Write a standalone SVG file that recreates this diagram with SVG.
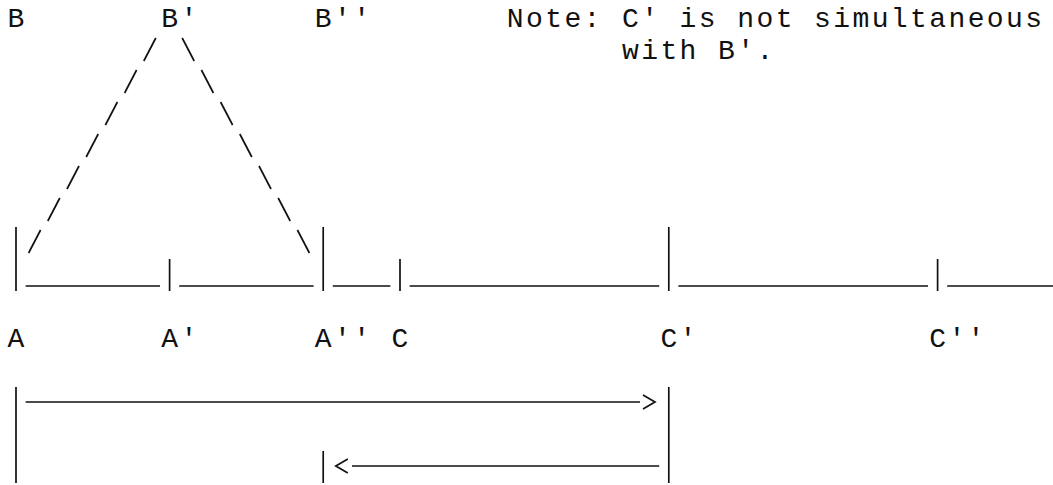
<svg xmlns="http://www.w3.org/2000/svg" width="1053" height="485" viewBox="0 0 1053 485">
<style>
text{font-family:"Liberation Mono","DejaVu Sans Mono",monospace;font-size:28px;letter-spacing:2.4px;fill:#111}
.ln{stroke:#111;stroke-width:1.7;fill:none;stroke-linecap:butt}
</style>
<rect width="1053" height="485" fill="#fff"/>
<g id="connectors" class="ln">
  <!-- vertical bars -->
  <line x1="16" y1="227" x2="16" y2="291"/>
  <line x1="169.6" y1="259" x2="169.6" y2="291"/>
  <line x1="323.2" y1="227" x2="323.2" y2="291"/>
  <line x1="400" y1="259" x2="400" y2="291"/>
  <line x1="668.8" y1="227" x2="668.8" y2="291"/>
  <line x1="937.6" y1="259" x2="937.6" y2="291"/>
  <line x1="16" y1="387" x2="16" y2="483"/>
  <line x1="668.8" y1="387" x2="668.8" y2="483"/>
  <line x1="323.2" y1="451" x2="323.2" y2="483"/>
  <!-- baseline underscores -->
  <line x1="25.6" y1="286" x2="160" y2="286"/>
  <line x1="179.2" y1="286" x2="313.6" y2="286"/>
  <line x1="332.8" y1="286" x2="390.4" y2="286"/>
  <line x1="409.6" y1="286" x2="659.2" y2="286"/>
  <line x1="678.4" y1="286" x2="928" y2="286"/>
  <line x1="947.2" y1="286" x2="1053" y2="286"/>
  <!-- left slashes -->
  <line x1="143.8" y1="61" x2="155.8" y2="38"/>
  <line x1="124.6" y1="93" x2="136.6" y2="70"/>
  <line x1="105.4" y1="125" x2="117.4" y2="102"/>
  <line x1="86.2" y1="157" x2="98.2" y2="134"/>
  <line x1="67" y1="189" x2="79" y2="166"/>
  <line x1="47.8" y1="221" x2="59.8" y2="198"/>
  <line x1="28.6" y1="253" x2="40.6" y2="230"/>
  <!-- right slashes -->
  <line x1="182.2" y1="38" x2="194.2" y2="61"/>
  <line x1="201.4" y1="70" x2="213.4" y2="93"/>
  <line x1="220.6" y1="102" x2="232.6" y2="125"/>
  <line x1="239.8" y1="134" x2="251.8" y2="157"/>
  <line x1="259" y1="166" x2="271" y2="189"/>
  <line x1="278.2" y1="198" x2="290.2" y2="221"/>
  <line x1="297.4" y1="230" x2="309.4" y2="253"/>
  <!-- arrows -->
  <line x1="25.6" y1="402" x2="640" y2="402"/>
  <polyline points="643,395 655,402 643,409"/>
  <line x1="352" y1="466" x2="659.2" y2="466"/>
  <polyline points="347.8,459 335.8,466 347.8,473"/>
</g>
<g id="node-B"><text x="7.6" y="27">B</text></g>
<g id="node-B1"><text x="161.2" y="27">B'</text></g>
<g id="node-B2"><text x="314.8" y="27">B''</text></g>
<g id="note"><text x="506.8" y="27">Note: C' is not simultaneous</text><text x="622" y="59">with B'.</text></g>
<g id="node-A"><text x="7.6" y="347">A</text></g>
<g id="node-A1"><text x="161.2" y="347">A'</text></g>
<g id="node-A2"><text x="314.8" y="347">A''</text></g>
<g id="node-C"><text x="391.6" y="347">C</text></g>
<g id="node-C1"><text x="660.4" y="347">C'</text></g>
<g id="node-C2"><text x="929.2" y="347">C''</text></g>
</svg>
